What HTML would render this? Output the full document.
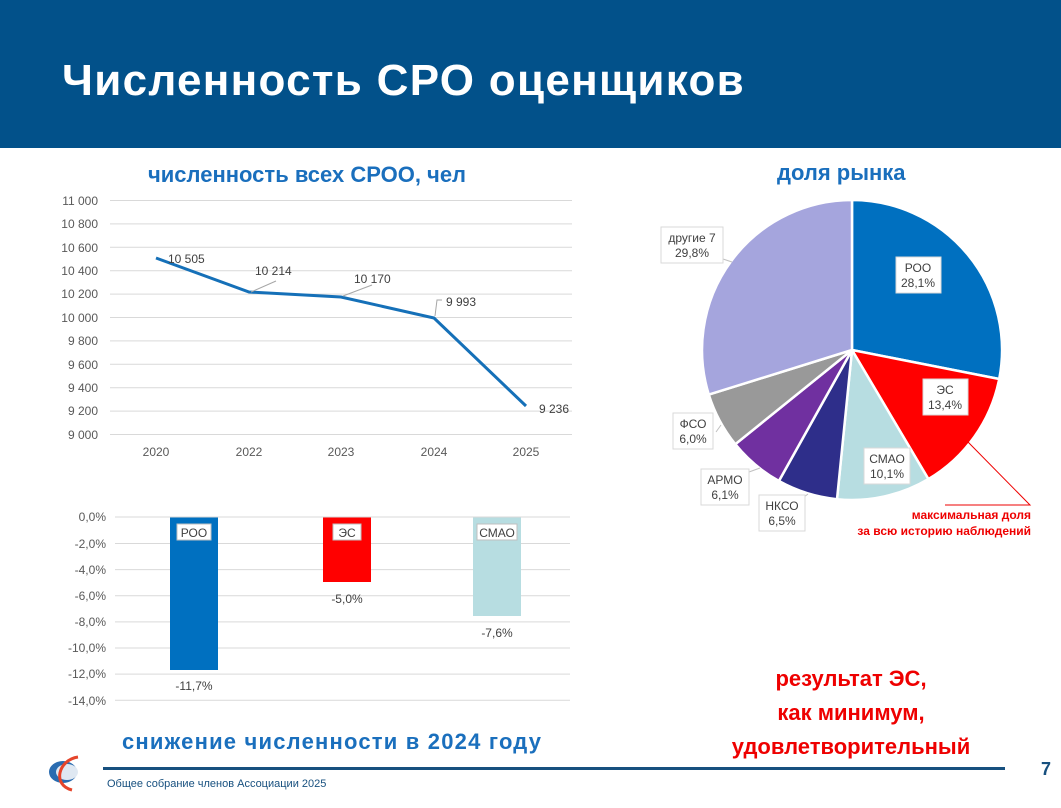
<!DOCTYPE html>
<html><head><meta charset="utf-8"><style>
body{margin:0;width:1061px;height:808px;background:#fff;position:relative;overflow:hidden;font-family:"Liberation Sans","DejaVu Sans",sans-serif}
.t{position:absolute;white-space:nowrap}
</style></head><body>
<div style="position:absolute;left:0;top:0;width:1061px;height:148px;background:#02518a"></div>
<div class="t" style="left:62px;top:56px;font-size:44px;letter-spacing:1.3px;font-weight:bold;color:#fff">Численность СРО оценщиков</div>
<div class="t" style="left:148px;top:162px;font-size:22px;font-weight:bold;color:#1a6fbd">численность всех СРОО, чел</div>
<div class="t" style="left:777px;top:160px;font-size:22px;font-weight:bold;color:#1a6fbd">доля рынка</div>
<div class="t" style="left:122px;top:729px;font-size:22px;letter-spacing:1.2px;font-weight:bold;color:#1a6fbd">снижение численности в 2024 году</div>
<div class="t" style="left:721px;top:662px;width:260px;text-align:center;font-size:22px;font-weight:bold;color:#e00;line-height:34px">результат ЭС,<br>как минимум,<br>удовлетворительный</div>
<svg width="1061" height="808" style="position:absolute;left:0;top:0" font-family="Liberation Sans, sans-serif">
<g stroke="#d9d9d9" stroke-width="1">
<line x1="110" x2="572" y1="200.5" y2="200.5"/><line x1="110" x2="572" y1="223.9" y2="223.9"/><line x1="110" x2="572" y1="247.3" y2="247.3"/><line x1="110" x2="572" y1="270.7" y2="270.7"/><line x1="110" x2="572" y1="294.1" y2="294.1"/><line x1="110" x2="572" y1="317.5" y2="317.5"/><line x1="110" x2="572" y1="340.9" y2="340.9"/><line x1="110" x2="572" y1="364.3" y2="364.3"/><line x1="110" x2="572" y1="387.7" y2="387.7"/><line x1="110" x2="572" y1="411.1" y2="411.1"/><line x1="110" x2="572" y1="434.5" y2="434.5"/>
</g>
<g font-size="12" fill="#595959" text-anchor="end">
<text x="98" y="205">11 000</text><text x="98" y="228">10 800</text><text x="98" y="252">10 600</text><text x="98" y="275">10 400</text><text x="98" y="298">10 200</text><text x="98" y="322">10 000</text><text x="98" y="345">9 800</text><text x="98" y="369">9 600</text><text x="98" y="392">9 400</text><text x="98" y="415">9 200</text><text x="98" y="439">9 000</text>
</g>
<g font-size="12" fill="#595959" text-anchor="middle">
<text x="156" y="456">2020</text><text x="249" y="456">2022</text><text x="341" y="456">2023</text><text x="434" y="456">2024</text><text x="526" y="456">2025</text>
</g>
<polyline points="156,258 249,292 341,297 434,318 526,406" fill="none" stroke="#1570b8" stroke-width="3"/>
<g stroke="#a6a6a6" fill="none"><path d="M251,292 L276,281"/><path d="M343,296 L372,285"/><path d="M435,316 L437,300 L442,300"/></g>
<g font-size="12" fill="#404040">
<text x="168" y="263">10 505</text><text x="255" y="275">10 214</text><text x="354" y="283">10 170</text><text x="446" y="306">9 993</text><text x="539" y="413">9 236</text>
</g>
<g stroke="#d9d9d9"><line x1="115" x2="570" y1="543.5" y2="543.5"/><line x1="115" x2="570" y1="569.6" y2="569.6"/><line x1="115" x2="570" y1="595.7" y2="595.7"/><line x1="115" x2="570" y1="621.9" y2="621.9"/><line x1="115" x2="570" y1="648" y2="648"/><line x1="115" x2="570" y1="674.1" y2="674.1"/><line x1="115" x2="570" y1="700.3" y2="700.3"/></g>
<g font-size="12" fill="#595959" text-anchor="end">
<text x="106" y="521">0,0%</text><text x="106" y="548">-2,0%</text><text x="106" y="574">-4,0%</text><text x="106" y="600">-6,0%</text><text x="106" y="626">-8,0%</text><text x="106" y="652">-10,0%</text><text x="106" y="678">-12,0%</text><text x="106" y="705">-14,0%</text>
</g>
<rect x="170" y="517" width="48" height="153" fill="#0070c0"/>
<rect x="323" y="517" width="48" height="65" fill="#ff0000"/>
<rect x="473" y="517" width="48" height="99" fill="#b7dde1"/>
<line x1="115" x2="570" y1="517" y2="517" stroke="#d9d9d9"/>
<g font-size="12" fill="#404040" text-anchor="middle">
<rect x="177" y="524" width="34" height="16" fill="#fff" stroke="#bfbfbf"/><text x="194" y="537">РОО</text>
<rect x="333" y="524" width="28" height="16" fill="#fff" stroke="#bfbfbf"/><text x="347" y="537">ЭС</text>
<rect x="477" y="524" width="40" height="16" fill="#fff" stroke="#bfbfbf"/><text x="497" y="537">СМАО</text>
<text x="194" y="690">-11,7%</text><text x="347" y="603">-5,0%</text><text x="497" y="637">-7,6%</text>
</g>
<g stroke="#fff" stroke-width="2.5">
<path d="M852,350 L852,200 A150,150 0 0 1 999.2,379 Z" fill="#0070c0"/>
<path d="M852,350 L999.2,379 A150,150 0 0 1 928.4,479.1 Z" fill="#ff0000"/>
<path d="M852,350 L928.4,479.1 A150,150 0 0 1 837,499.2 Z" fill="#b7dde1"/>
<path d="M852,350 L837,499.2 A150,150 0 0 1 778.9,481 Z" fill="#2e2e8a"/>
<path d="M852,350 L778.9,481 A150,150 0 0 1 735.3,444.2 Z" fill="#7030a0"/>
<path d="M852,350 L735.3,444.2 A150,150 0 0 1 708.8,394.6 Z" fill="#999999"/>
<path d="M852,350 L708.8,394.6 A150,150 0 0 1 852,200 Z" fill="#a5a5dd"/>
</g>
<g stroke="#bfbfbf" fill="none"><path d="M723,259 L732,262"/><path d="M716,432 L721,425"/><path d="M749,472 L760,468"/><path d="M804,497 L808,494"/></g>
<path d="M968,442 L1030,505 L945,505" stroke="#e00" fill="none"/>
<g font-size="12" fill="#404040" text-anchor="middle">
<rect x="896" y="257" width="45" height="36" fill="#fff" stroke="#d9d9d9"/><text x="918" y="272">РОО</text><text x="918" y="287">28,1%</text>
<rect x="923" y="379" width="45" height="36" fill="#fff" stroke="#d9d9d9"/><text x="945" y="394">ЭС</text><text x="945" y="409">13,4%</text>
<rect x="864" y="448" width="46" height="36" fill="#fff" stroke="#d9d9d9"/><text x="887" y="463">СМАО</text><text x="887" y="478">10,1%</text>
<rect x="661" y="227" width="62" height="36" fill="#fff" stroke="#d9d9d9"/><text x="692" y="242">другие 7</text><text x="692" y="257">29,8%</text>
<rect x="673" y="413" width="40" height="36" fill="#fff" stroke="#d9d9d9"/><text x="693" y="428">ФСО</text><text x="693" y="443">6,0%</text>
<rect x="701" y="469" width="48" height="36" fill="#fff" stroke="#d9d9d9"/><text x="725" y="484">АРМО</text><text x="725" y="499">6,1%</text>
<rect x="759" y="495" width="46" height="36" fill="#fff" stroke="#d9d9d9"/><text x="782" y="510">НКСО</text><text x="782" y="525">6,5%</text>
</g>
<g font-size="12" font-weight="bold" fill="#e00" text-anchor="end"><text x="1031" y="519">максимальная доля</text><text x="1031" y="535">за всю историю наблюдений</text></g>
<line x1="103" x2="1005" y1="768.5" y2="768.5" stroke="#17507f" stroke-width="3"/>
<ellipse cx="63" cy="772" rx="14" ry="11" fill="#2a6cb0"/><ellipse cx="67" cy="772" rx="11" ry="8" fill="#dfe8f2"/>
<path d="M78,757 C58,760 52,785 72,790" stroke="#e5452b" stroke-width="3" fill="none"/>
<text x="107" y="787" font-size="11" fill="#17507f">Общее собрание членов Ассоциации 2025</text>
<text x="1041" y="775" font-size="18" font-weight="bold" fill="#17507f">7</text>
</svg>
</body></html>
